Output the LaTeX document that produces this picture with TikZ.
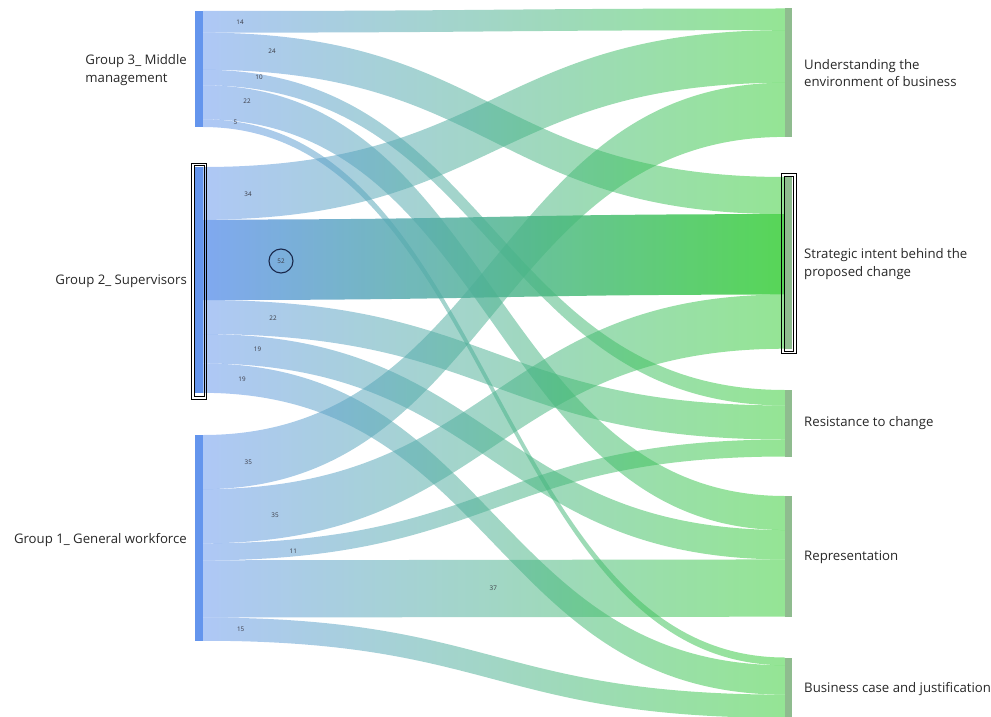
\documentclass[tikz,border=0pt]{standalone}
\usepackage{fontspec}
\setmainfont{Open Sans}
\definecolor{fblue}{RGB}{100,149,237}
\definecolor{fgreen}{RGB}{50,205,50}
\definecolor{barblue}{RGB}{100,149,237}
\definecolor{bargreen}{RGB}{143,188,143}
\definecolor{txt}{RGB}{40,40,40}
\definecolor{numc}{RGB}{55,55,65}
\definecolor{navy}{RGB}{25,40,75}
\newcommand\sankeyband[4][flowband]{%
  \path[#1] (203,#2) .. controls (494,#2) and (494,#3) .. (785,#3)
    -- (785,{#3+#4*1.547}) .. controls (494,{#3+#4*1.547}) and (494,{#2+#4*1.547}) .. (203,{#2+#4*1.547}) -- cycle;}
\begin{document}
\begin{tikzpicture}[x=1pt,y=-1pt,
  flowband/.style={left color=fblue, right color=fgreen, fill opacity=0.52, draw=none},
  flowhi/.style={left color=fblue, right color=fgreen, fill opacity=0.82, draw=none},
  lbar/.style={rectangle, fill=barblue, draw=none, minimum width=7.7pt, inner sep=0pt, outer sep=0pt, anchor=north west},
  rbar/.style={rectangle, fill=bargreen, draw=none, minimum width=7.3pt, inner sep=0pt, outer sep=0pt, anchor=north west},
  lbl/.style={text=txt, font=\fontsize{13.2}{17.5}\selectfont, align=left, inner sep=0pt},
  num/.style={text=numc, font=\fontsize{6.3}{7}\selectfont, inner sep=0pt},
  selbox/.style={draw=black, line width=0.9pt}
]
\useasboundingbox (0,0) rectangle (991,717);
% flows
\sankeyband{11.00}{8.50}{14}
\sankeyband{32.66}{177.00}{24}
\sankeyband{69.79}{390.00}{10}
\sankeyband{85.26}{496.00}{22}
\sankeyband{119.29}{657.50}{5}
\sankeyband{167.00}{30.16}{34}
\sankeyband{300.04}{405.47}{22}
\sankeyband{334.07}{530.03}{19}
\sankeyband{363.46}{665.24}{19}
\sankeyband{435.00}{82.76}{35}
\sankeyband{489.15}{294.57}{35}
\sankeyband{543.29}{439.50}{11}
\sankeyband{560.31}{559.42}{37}
\sankeyband{617.55}{694.63}{15}
\sankeyband[flowhi]{219.60}{214.13}{52}
% left bars
\node[lbar, minimum height=116pt] (g3) at (195,11) {};
\node[lbar, minimum height=225.9pt] (g2) at (195,167) {};
\node[lbar, minimum height=205.75pt] (g1) at (195,435) {};
\draw[selbox] (194,165.5) rectangle (204,396.5);
\draw[selbox] (191.7,163.5) rectangle (206.3,399);
% right bars
\node[rbar, minimum height=128.4pt] (u) at (785,8.5) {};
\node[rbar, minimum height=171.7pt] (s) at (785,177) {};
\node[rbar, minimum height=66.5pt] (r) at (785,390) {};
\node[rbar, minimum height=120.7pt] (rep) at (785,496) {};
\node[rbar, minimum height=60.3pt] (b) at (785,657.5) {};
\draw[selbox] (784,176) rectangle (793.7,351);
\draw[selbox] (781.7,173.5) rectangle (796,353.5);
% labels
\node[lbl, anchor=east] (lg3) at (187,70) {Group 3\_ Middle\\management};
\node[lbl, anchor=east] (lg2) at (187,281) {Group 2\_ Supervisors};
\node[lbl, anchor=east] (lg1) at (187,540) {Group 1\_ General workforce};
\node[lbl, anchor=west] (lu) at (804,73) {Understanding the\\environment of business};
\node[lbl, anchor=west] (ls) at (804,264) {Strategic intent behind the\\proposed change};
\node[lbl, anchor=west] (lr) at (804,423) {Resistance to change};
\node[lbl, anchor=west] (lrep) at (804,557) {Representation};
\node[lbl, anchor=west] (lb) at (804,689) {Business case and justification};
% numbers
\node[num] (n1) at (240,22) {14};
\node[num] (n2) at (272,51.5) {24};
\node[num] (n3) at (259,77) {10};
\node[num] (n4) at (247,101.5) {22};
\node[num] (n5) at (235.5,122.7) {5};
\node[num] (n6) at (248,194) {34};
\node[num, circle, draw=navy, line width=1.1pt, minimum size=24pt] (n7) at (281,261) {52};
\node[num] (n8) at (273,318) {22};
\node[num] (n9) at (257.5,349.5) {19};
\node[num] (n10) at (242,379.3) {19};
\node[num] (n11) at (248.3,462.7) {35};
\node[num] (n12) at (275,515.7) {35};
\node[num] (n13) at (293.3,551) {11};
\node[num] (n14) at (493.3,588.3) {37};
\node[num] (n15) at (240.7,629.3) {15};
\end{tikzpicture}
\end{document}
